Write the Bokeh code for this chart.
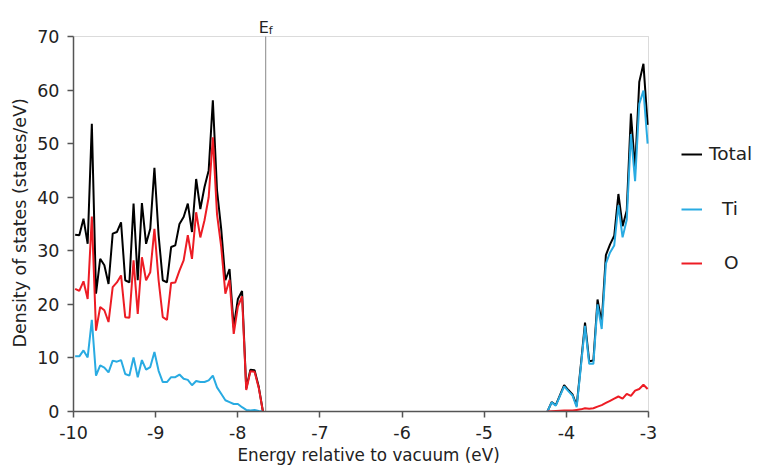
import numpy as np
from bokeh.plotting import figure
from bokeh.models import (Legend, LegendItem, Label, FixedTicker, Range1d,
                          BoxAnnotation, Title)
from bokeh.embed import file_html
from bokeh.resources import INLINE

# Energy grid spacing of the DOS calculation (eV)
step = 0.0508

# Valence band: states below the Fermi level (states/eV)
vb_start = -9.98
vb_total = [33.0, 32.9, 36.0, 31.3, 53.7, 22.0, 28.5, 27.3, 23.8, 33.2,
            33.5, 35.3, 24.5, 24.1, 38.8, 24.5, 38.9, 31.3, 34.1, 45.5,
            32.9, 24.5, 24.1, 30.7, 31.0, 35.0, 36.3, 38.8, 33.5, 43.4,
            37.8, 41.9, 45.0, 58.1, 41.3, 34.1, 24.5, 26.6, 15.7, 21.0,
            22.5, 4.3, 7.8, 7.7, 4.6, 0.0]
vb_ti = [10.3, 10.3, 11.4, 10.1, 17.1, 6.7, 8.6, 8.2, 7.3, 9.5,
         9.3, 9.6, 7.0, 6.7, 10.1, 6.4, 9.6, 7.8, 8.3, 11.1,
         7.6, 5.5, 5.5, 6.4, 6.4, 6.9, 6.1, 5.9, 4.9, 5.7,
         5.5, 5.5, 5.8, 6.7, 4.5, 3.3, 2.1, 1.75, 1.4, 1.4,
         0.8, 0.3, 0.2, 0.3, 0.1, 0.0]
vb_o = [22.9, 22.5, 24.3, 21.0, 36.4, 15.1, 19.5, 18.9, 16.7, 23.2,
        24.1, 25.4, 17.6, 17.5, 28.2, 18.2, 28.8, 24.5, 26.0, 34.1,
        24.5, 17.6, 17.1, 24.0, 24.1, 26.3, 28.2, 32.9, 28.5, 37.2,
        32.5, 35.7, 40.0, 51.2, 36.8, 30.8, 22.0, 24.6, 14.5, 19.6,
        21.5, 4.0, 7.5, 7.4, 4.4, 0.0]

# Conduction band: states above the gap (states/eV)
cb_start = -4.23
cb_total = [0.0, 1.75, 1.2, 3.05, 4.9, 4.0, 3.2, 1.1, 8.7, 16.6,
            9.4, 9.5, 20.9, 16.6, 29.2, 31.2, 32.8, 40.6, 34.6, 37.5,
            55.6, 45.2, 61.5, 64.9, 53.5]
cb_ti = [0.0, 1.7, 1.1, 2.9, 4.7, 3.8, 3.0, 0.8, 8.3, 16.0,
         8.9, 8.9, 20.0, 15.4, 27.6, 29.7, 31.0, 38.5, 32.5, 35.8,
         51.8, 43.0, 57.4, 59.9, 50.0]
cb_o = [0.0, 0.05, 0.1, 0.15, 0.2, 0.2, 0.2, 0.3, 0.4, 0.6,
        0.5, 0.6, 0.9, 1.2, 1.6, 2.0, 2.4, 2.8, 2.4, 3.3,
        2.9, 3.9, 4.2, 5.0, 4.2]

fermi_level = -7.66
x_ticks = [-10, -9, -8, -7, -6, -5, -4, -3]
x_tick_labels = ["-10", "-9", "-8", "-7", "-6", "-5", "-4", "-3"]
y_ticks = [0, 10, 20, 30, 40, 50, 60, 70]

vb_energy = vb_start + step * np.arange(len(vb_total))
cb_energy = cb_start + step * np.arange(len(cb_total))

FONT = "DejaVu Sans"
TEXT = "#222222"
C_TOTAL = "#000000"
C_TI = "#29abe2"
C_O = "#ed1c24"

# The axes box spans -10..-3 eV and 0..70 states/eV (575 x 375 px); the
# drawing area is widened to the right and upwards so the legend and the
# E_f tag can sit outside that box.
X0, X1, Y0, Y1 = -10, -3, 0, 70
px_per_ev = 575 / (X1 - X0)
px_per_state = 375 / (Y1 - Y0)
x_end = X0 + 684 / px_per_ev
y_end = Y0 + 411 / px_per_state

p = figure(frame_width=684, frame_height=411,
           x_range=Range1d(X0, x_end), y_range=Range1d(Y0, y_end),
           output_backend="svg", toolbar_location=None,
           min_border_left=73, min_border_right=0,
           min_border_top=0, min_border_bottom=57,
           background_fill_color="white", border_fill_color="white",
           outline_line_color=None)

p.xgrid.visible = False
p.ygrid.visible = False

for ax in (p.xaxis[0], p.yaxis[0]):
    ax.axis_line_color = "#555555"
    ax.axis_line_width = 1.5
    ax.major_tick_line_color = "#555555"
    ax.major_tick_line_width = 1.5
    ax.major_tick_out = 6
    ax.major_tick_in = 0
    ax.minor_tick_line_color = None
    ax.major_label_text_font = FONT
    ax.major_label_text_font_size = "17.5px"
    ax.major_label_text_color = TEXT
    ax.major_label_standoff = 8

p.xaxis.bounds = (X0, X1)
p.yaxis.bounds = (Y0, Y1)
p.xaxis.ticker = FixedTicker(ticks=x_ticks)
p.xaxis.major_label_overrides = dict(zip(x_ticks, x_tick_labels))
p.yaxis.ticker = FixedTicker(ticks=y_ticks)

# Axis titles, centred on the axes box rather than on the drawing area
p.add_layout(Title(text="Energy relative to vacuum (eV)", align="left",
                   offset=164, standoff=3, vertical_align="bottom",
                   text_font=FONT, text_font_size="16.8px",
                   text_font_style="normal", text_color=TEXT), "below")
p.add_layout(Title(text="Density of states (states/eV)", align="left",
                   offset=64, standoff=10, vertical_align="bottom",
                   text_font=FONT, text_font_size="17.5px",
                   text_font_style="normal", text_color=TEXT), "left")

# Box around the axes area
p.add_layout(BoxAnnotation(left=X0, right=X1, bottom=Y0, top=Y1,
                           fill_alpha=0, line_color="#888888",
                           line_width=1, level="underlay"))

# Fermi level marker
p.segment(x0=[fermi_level], y0=[Y0], x1=[fermi_level], y1=[Y1],
          line_color="#888888", line_width=1)
p.add_layout(Label(x=fermi_level, y=71.74, text="E", x_offset=-2,
                   text_align="center", text_baseline="alphabetic",
                   text_font=FONT, text_font_size="16px", text_color=TEXT))
p.add_layout(Label(x=fermi_level, y=71.2, text="f", x_offset=3,
                   text_align="left", text_baseline="alphabetic",
                   text_font=FONT, text_font_size="11px", text_color=TEXT))

# DOS curves: total, Ti-projected and O-projected
r_tot = p.line(vb_energy, vb_total, line_color=C_TOTAL, line_width=2)
p.line(cb_energy, cb_total, line_color=C_TOTAL, line_width=2)
r_ti = p.line(vb_energy, vb_ti, line_color=C_TI, line_width=2)
p.line(cb_energy, cb_ti, line_color=C_TI, line_width=2)
r_o = p.line(vb_energy, vb_o, line_color=C_O, line_width=2)
p.line(cb_energy, cb_o, line_color=C_O, line_width=2)


def legend_entry(label, renderer, standoff, loc):
    return Legend(items=[LegendItem(label=label, renderers=[renderer])],
                  location=loc, padding=0, margin=0, spacing=0,
                  glyph_width=21, glyph_height=20, label_height=20,
                  label_standoff=standoff,
                  label_text_font=FONT, label_text_font_size="18.5px",
                  label_text_color=TEXT,
                  background_fill_alpha=0, border_line_alpha=0)


p.add_layout(legend_entry("Total", r_tot, 7, (608, 247)))
p.add_layout(legend_entry("Ti", r_ti, 20, (608, 192)))
p.add_layout(legend_entry("O", r_o, 22, (608, 138)))

open("out.html", "w").write(file_html(p, INLINE))
